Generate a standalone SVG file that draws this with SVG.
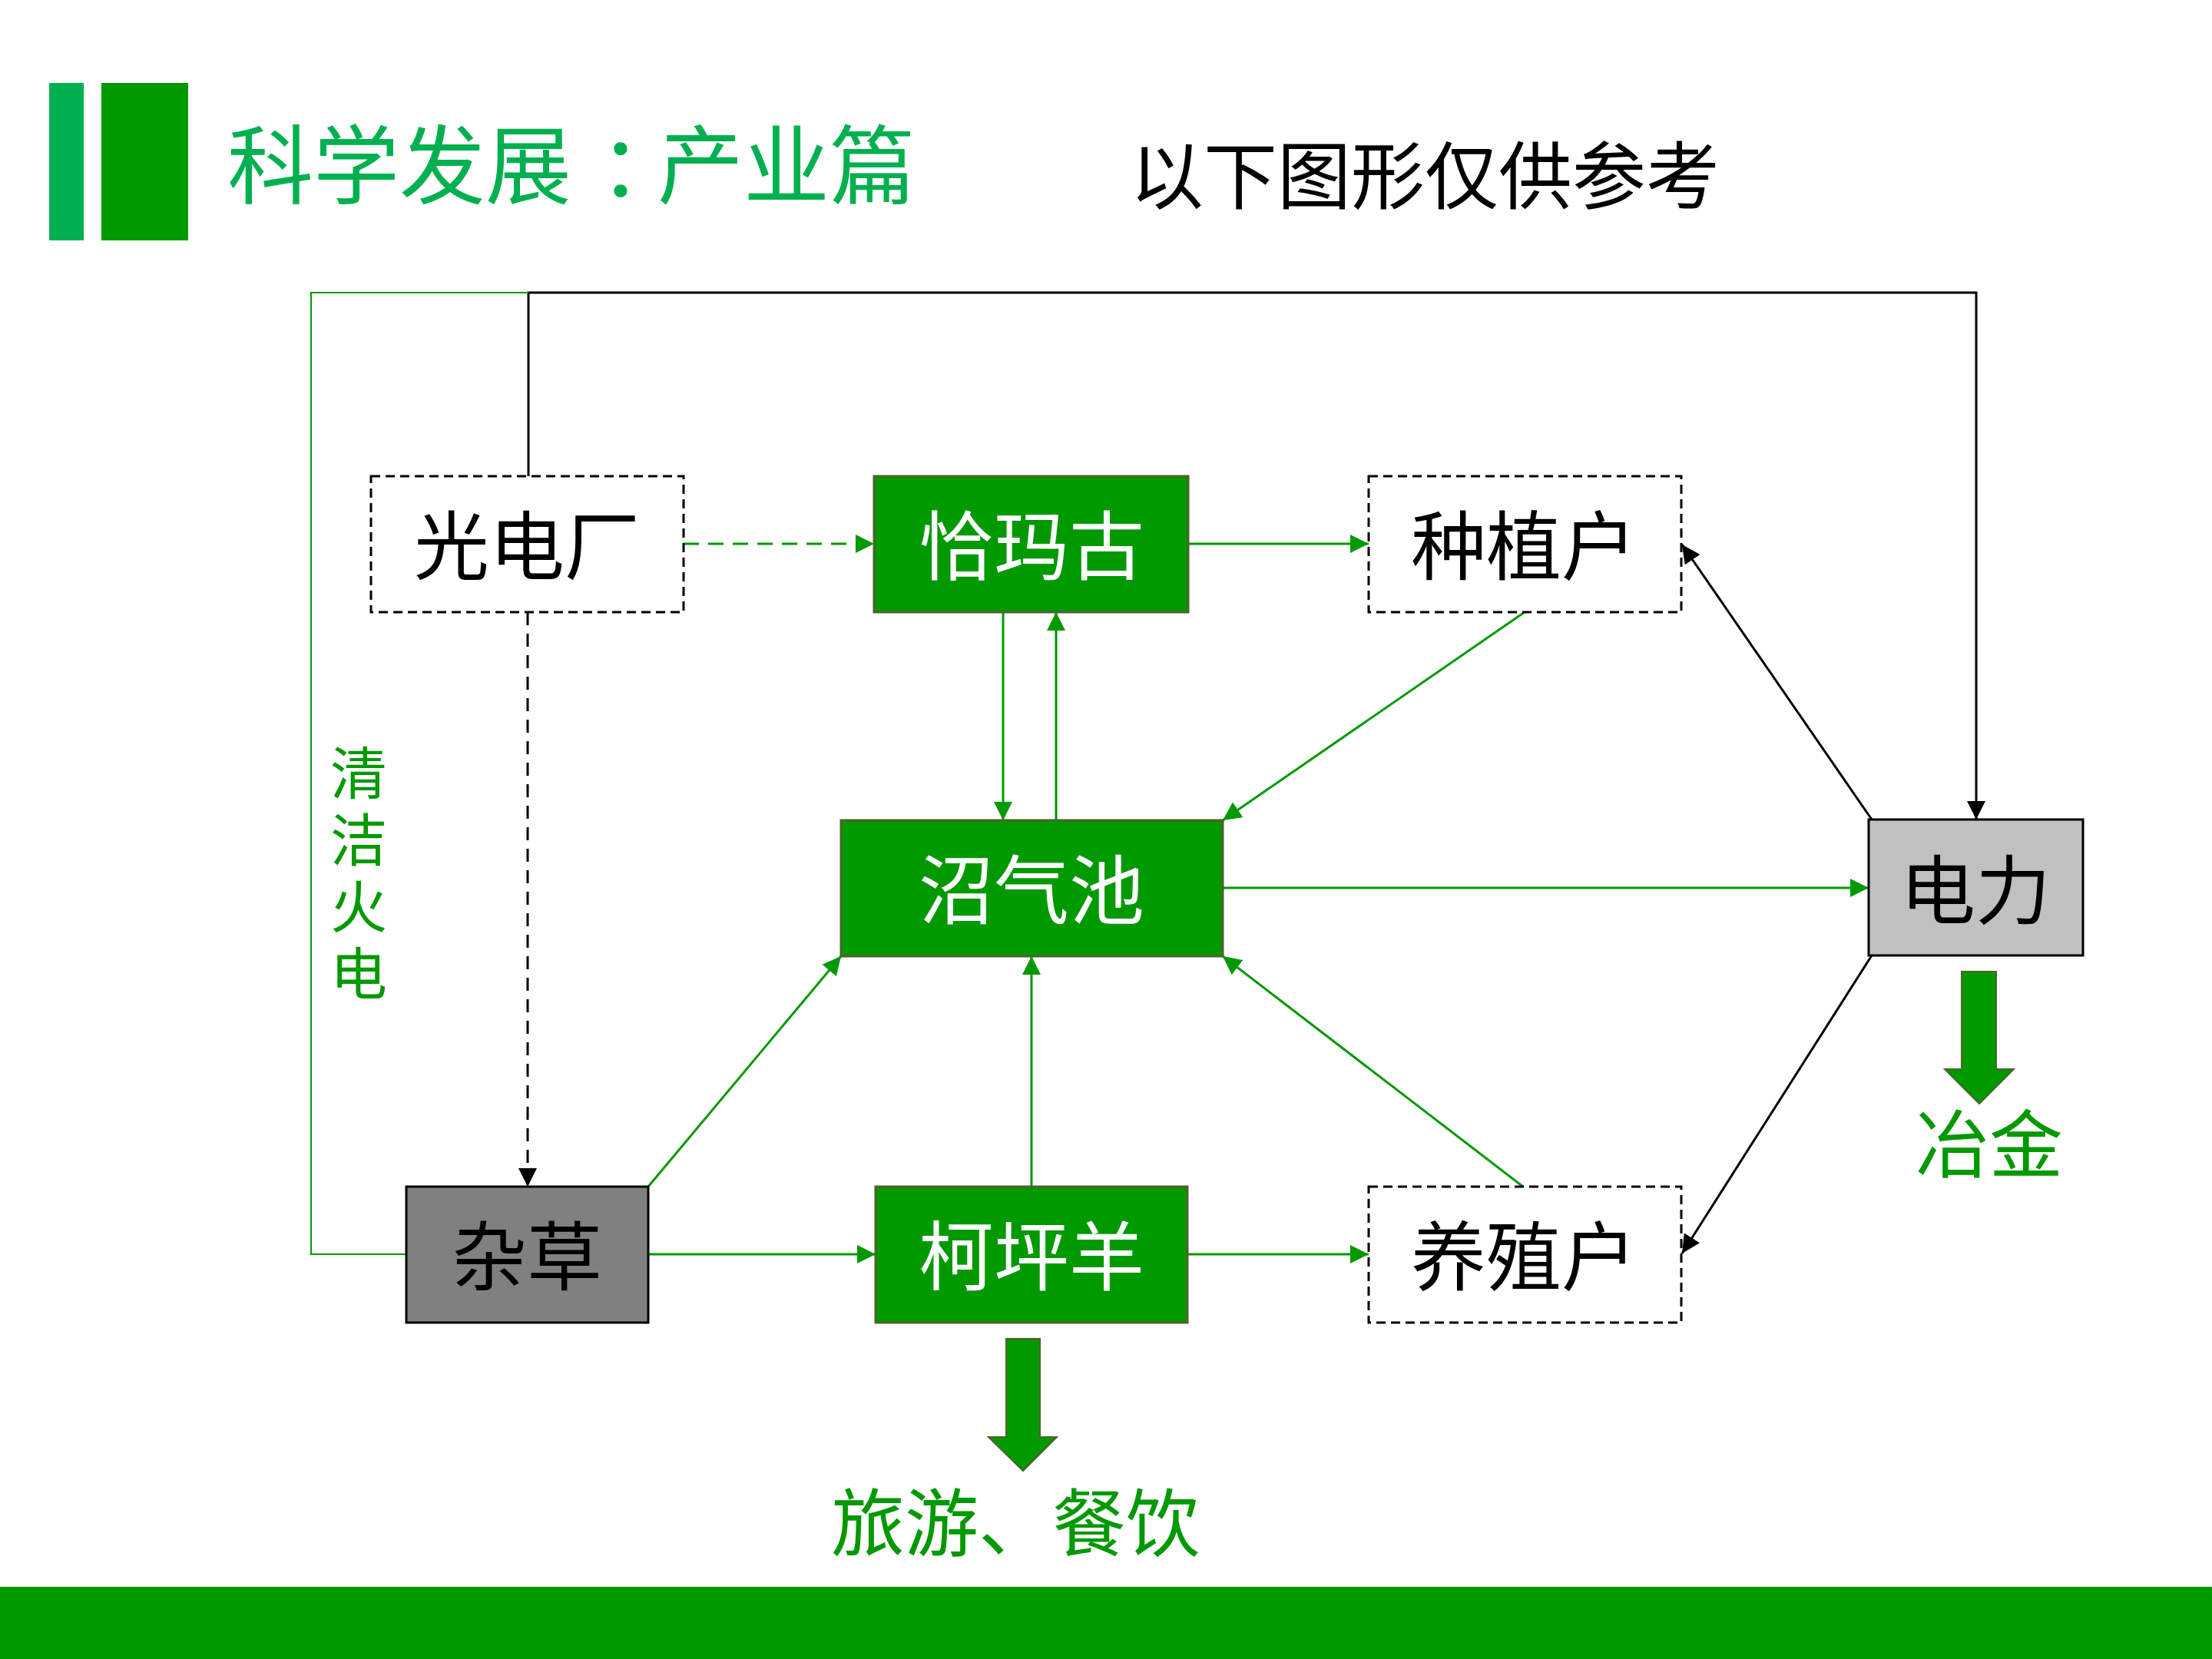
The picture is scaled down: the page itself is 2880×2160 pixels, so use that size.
<svg xmlns="http://www.w3.org/2000/svg" width="2880" height="2160" viewBox="0 0 2880 2160">
<style>
text{font-family:"Noto Sans CJK SC","Microsoft YaHei",sans-serif}
.lbl{font-size:98px;text-anchor:middle}
.g{fill:#009900;stroke:#4F6228;stroke-width:3}
.d{fill:#ffffff;stroke:#000;stroke-width:3;stroke-dasharray:12 7}
.gr{stroke:#000;stroke-width:3}
.cg{fill:none;stroke:#009900;stroke-width:3}
.ck{fill:none;stroke:#000;stroke-width:3}
</style>
<defs>
<marker id="ag" markerUnits="userSpaceOnUse" markerWidth="24" markerHeight="24" refX="24" refY="12" orient="auto"><path d="M0,0 L24,12 L0,24 z" fill="#009900"/></marker>
<marker id="ak" markerUnits="userSpaceOnUse" markerWidth="24" markerHeight="24" refX="24" refY="12" orient="auto"><path d="M0,0 L24,12 L0,24 z" fill="#000"/></marker>
</defs>
<rect width="2880" height="2160" fill="#fff"/>
<g id="header">
<rect x="64" y="108" width="45" height="205" fill="#00B050"/>
<rect x="132" y="108" width="113" height="205" fill="#009900"/>
<text x="296" y="257" font-size="112" fill="#00B050">科学发展<tspan dx="36" letter-spacing="-36">：</tspan>产业篇</text>
<text x="1471" y="264" font-size="96" fill="#000">以下图形仅供参考</text>
</g>
<g id="connectors">
<path class="ck" d="M688,620 V381 H2573 V1067" marker-end="url(#ak)"/>
<path fill="none" stroke="#009900" stroke-width="2" d="M529,1633 H405 V381 H688"/>
<line class="cg" x1="890" y1="708" x2="1138" y2="708" stroke-width="4" stroke-dasharray="20 12" marker-end="url(#ag)"/>
<line class="ck" x1="687" y1="797" x2="687" y2="1545" stroke-dasharray="17 11" marker-end="url(#ak)"/>
<line class="cg" x1="1547" y1="708" x2="1782" y2="708" marker-end="url(#ag)"/>
<line class="cg" x1="1306" y1="797" x2="1306" y2="1068" stroke-width="2.5" marker-end="url(#ag)"/>
<line class="cg" x1="1375" y1="1068" x2="1375" y2="797" stroke-width="2.5" marker-end="url(#ag)"/>
<line class="cg" x1="1985" y1="797" x2="1592" y2="1068" marker-end="url(#ag)"/>
<line class="cg" x1="1592" y1="1156" x2="2433" y2="1156" marker-end="url(#ag)"/>
<line class="ck" x1="2437" y1="1067" x2="2190" y2="709" marker-end="url(#ak)"/>
<line class="ck" x1="2437" y1="1244" x2="2190" y2="1632" marker-end="url(#ak)"/>
<line class="cg" x1="844" y1="1545" x2="1095" y2="1245" marker-end="url(#ag)"/>
<line class="cg" x1="1343" y1="1545" x2="1343" y2="1245" marker-end="url(#ag)"/>
<line class="cg" x1="1983" y1="1545" x2="1592" y2="1245" marker-end="url(#ag)"/>
<line class="cg" x1="844" y1="1633" x2="1140" y2="1633" marker-end="url(#ag)"/>
<line class="cg" x1="1546" y1="1633" x2="1782" y2="1633" marker-end="url(#ag)"/>
</g>
<g id="n-guangdianchang"><rect class="d" x="483" y="620" width="407" height="177"/><text class="lbl" x="686" y="747" fill="#000">光电厂</text></g>
<g id="n-qiamagu"><rect class="g" x="1138" y="620" width="409" height="177"/><text class="lbl" x="1343" y="747" fill="#fff">恰玛古</text></g>
<g id="n-zhongzhihu"><rect class="d" x="1782" y="620" width="407" height="177"/><text class="lbl" x="1984" y="747" fill="#000">种植户</text></g>
<g id="n-zhaoqichi"><rect class="g" x="1095" y="1068" width="497" height="177"/><text class="lbl" x="1343" y="1195" fill="#fff">沼气池</text></g>
<g id="n-dianli"><rect class="gr" x="2433" y="1067" width="279" height="177" fill="#C0C0C0"/><text class="lbl" x="2572" y="1195" fill="#000">电力</text></g>
<g id="n-zacao"><rect class="gr" x="529" y="1545" width="315" height="177" fill="#808080"/><text class="lbl" x="686" y="1672" fill="#000">杂草</text></g>
<g id="n-kepingyang"><rect class="g" x="1140" y="1545" width="406" height="177"/><text class="lbl" x="1343" y="1672" fill="#fff">柯坪羊</text></g>
<g id="n-yangzhihu"><rect class="d" x="1782" y="1545" width="407" height="177"/><text class="lbl" x="1984" y="1672" fill="#000">养殖户</text></g>
<g id="label-qingjiehuodian">
<text x="467" y="969" fill="#009900" font-size="74" writing-mode="vertical-rl" letter-spacing="13">清洁火电</text>
</g>
<g id="out-tourism">
<polygon points="1310,1743 1354,1743 1354,1871 1376,1871 1332,1915 1287,1871 1310,1871" fill="#009900" stroke="#4F6228" stroke-width="2"/>
<text x="1082" y="2018" font-size="96" fill="#009900">旅游、餐饮</text>
</g>
<g id="out-metallurgy">
<polygon points="2554,1265 2599,1265 2599,1392 2622,1392 2577,1437 2532,1392 2554,1392" fill="#009900" stroke="#4F6228" stroke-width="2"/>
<text x="2494" y="1525" font-size="96" fill="#009900">冶金</text>
</g>
<rect id="footer" x="0" y="2066" width="2880" height="94" fill="#009900"/>
</svg>
